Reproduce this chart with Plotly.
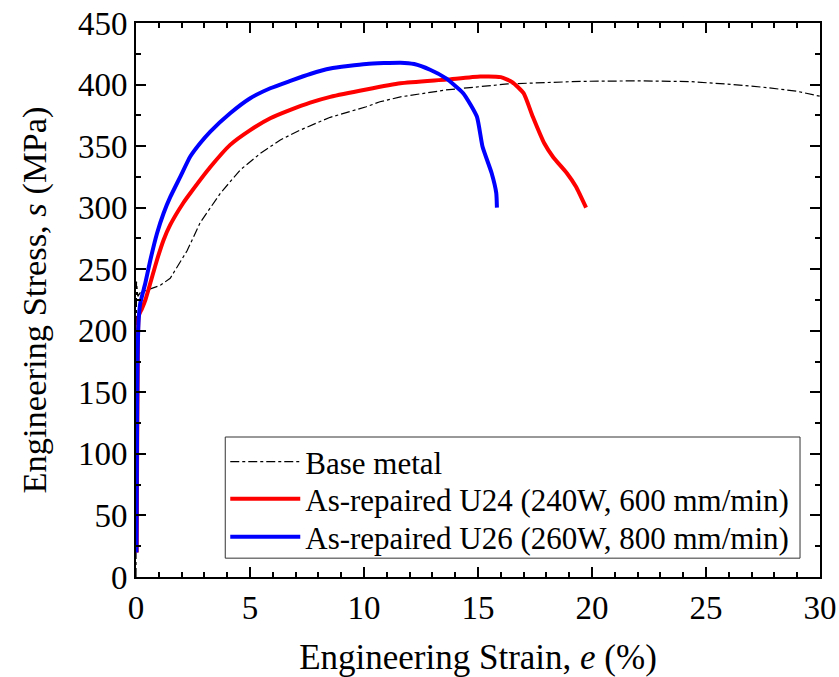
import plotly.graph_objects as go

# Base metal
base_x = [0, 0.02, 0.08, 0.19, 0.63, 1.07, 1.5, 1.94, 2.24, 2.82, 3.11, 3.70, 4.57, 5.45, 6.33,
          7.2, 8.08, 8.52, 10.1, 10.7, 11.6, 13.6, 16.3, 19.5, 22.0, 24.3, 26.2, 27.7, 29.0, 30.0]
base_y = [0, 240, 228, 231, 234, 237, 242.6, 256, 265, 288, 296, 311.7, 330.6, 344, 355,
          363, 370, 373.4, 382, 386, 390, 395.6, 400.5, 402.6, 403, 402.4, 400, 397.5, 394.5, 390.5]

# As-repaired U24
u24_x = [0.03, 0.05, 0.08, 0.12, 0.26, 0.41, 0.63, 0.92, 1.21, 1.5, 2.08, 2.38, 3.26, 4.13,
         5.01, 5.89, 6.77, 7.64, 8.52, 10.1, 11.6, 13.6, 15.1, 16.0, 16.5, 17.0, 17.4, 17.9,
         18.3, 18.9, 19.3, 19.74]
u24_y = [20, 100, 180, 212, 218, 225, 238.8, 257.5, 273.8, 286, 304, 311.7, 333, 351,
         363, 372.6, 379.4, 385.3, 390, 396, 401, 404, 406.5, 406, 402, 393, 374, 352.5,
         341, 328, 317, 300]

# As-repaired U26
u26_x = [0.02, 0.04, 0.07, 0.12, 0.19, 0.41, 0.63, 0.92, 1.21, 1.5, 1.94, 2.38, 2.82, 3.26,
         4.13, 5.01, 5.89, 6.77, 7.64, 8.52, 10.1, 11.6, 12.2, 12.9, 13.6, 14.35, 14.95, 15.2,
         15.6, 15.8, 15.83]
u26_y = [20, 100, 180, 210, 222.6, 238.8, 257.5, 279, 295.5, 308.5, 325, 341.5, 352.5, 361.8,
         376.7, 388.9, 397, 403, 408.6, 413, 416.7, 417.8, 416.7, 412, 405, 393, 374, 349.5,
         328, 312, 300]

names = ["Base metal",
         "As-repaired U24 (240W, 600 mm/min)",
         "As-repaired U26 (260W, 800 mm/min)"]

FONT = "Liberation Serif"

fig = go.Figure()
fig.add_trace(go.Scatter(x=base_x, y=base_y, mode="lines", name=names[0], legend="legend",
                         line=dict(color="black", width=1.2, dash="dashdot")))
fig.add_trace(go.Scatter(x=u24_x, y=u24_y, mode="lines", name=names[1], legend="legend2",
                         line=dict(color="#ff0000", width=4, shape="spline", smoothing=0.5)))
fig.add_trace(go.Scatter(x=u26_x, y=u26_y, mode="lines", name=names[2], legend="legend3",
                         line=dict(color="#0000ff", width=4, shape="spline", smoothing=0.5)))

axis_common = dict(
    showline=True, linecolor="black", linewidth=2, mirror="allticks",
    ticks="inside", ticklen=10, tickwidth=1.5, tickcolor="black",
    showgrid=False, zeroline=False, automargin=False, ticklabeloverflow="allow",
    tickfont=dict(family=FONT, size=33, color="black"),
)

fig.update_xaxes(range=[0, 30], dtick=5, tick0=0,
                 minor=dict(dtick=1, ticks="inside", ticklen=5, tickwidth=1.5, tickcolor="black", showgrid=False),
                 title=dict(text="Engineering Strain, <i>e</i> (%)",
                            font=dict(family=FONT, size=35, color="black"), standoff=21),
                 **axis_common)
fig.update_yaxes(range=[0, 450], dtick=50, tick0=0,
                 minor=dict(dtick=25, ticks="inside", ticklen=5, tickwidth=1.5, tickcolor="black", showgrid=False),
                 title=dict(text="Engineering Stress, <i>s</i> (MPa)",
                            font=dict(family=FONT, size=34.5, color="black"), standoff=21),
                 **axis_common)

leg_common = dict(x=0.1305, xanchor="left", yanchor="middle",
                  bgcolor="rgba(0,0,0,0)", borderwidth=0,
                  font=dict(family=FONT, size=31, color="black"), itemwidth=70)

fig.update_layout(
    width=839, height=677,
    margin=dict(l=136, r=19, t=23, b=100),
    plot_bgcolor="white", paper_bgcolor="white",
    font=dict(family=FONT, size=31, color="black"),
    showlegend=True,
    legend=dict(y=0.2076, **leg_common),
    legend2=dict(y=0.1408, **leg_common),
    legend3=dict(y=0.0722, **leg_common),
    shapes=[dict(type="rect", xref="paper", yref="paper", x0=0.1305, x1=0.9708,
                 y0=0.034, y1=0.2527, line=dict(color="#333333", width=1),
                 fillcolor="white", layer="below")],
)

fig.write_html("out.html", config={"displayModeBar": False},
               post_script="document.body.style.margin='0';")
